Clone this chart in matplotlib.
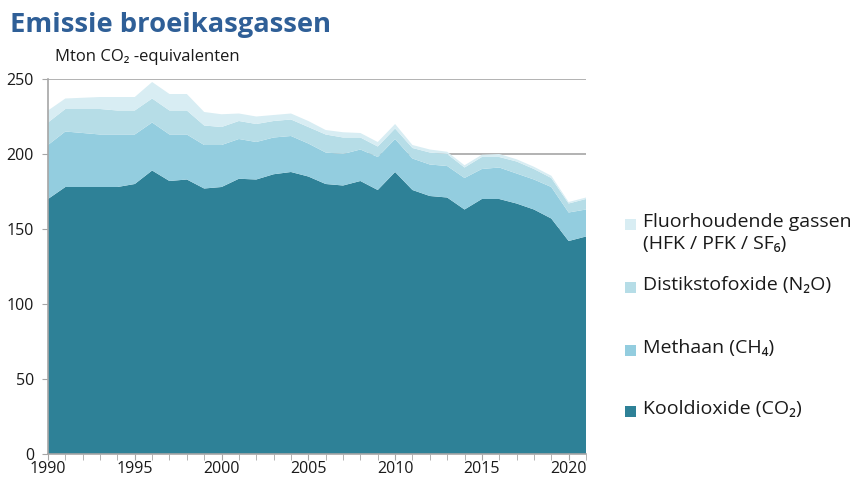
import matplotlib
matplotlib.use("Agg")
import matplotlib.pyplot as plt
from matplotlib.patches import Rectangle

years = list(range(1990, 2022))
co2 = [170, 178, 178, 178, 178, 180, 189, 182, 183, 177, 178, 183.5, 183, 186.5, 188, 185,
       180, 179, 182, 176, 188, 176, 172, 171, 163, 170, 170, 167, 163, 157, 142, 145]
top_ch4 = [206, 215, 214, 213, 213, 213, 221, 213, 213, 206, 206, 210, 208, 211, 212, 207,
           201, 200, 203, 198, 210, 197, 193, 192, 184, 190, 191, 187, 183, 178, 161, 163]
top_n2o = [221, 230, 230, 230, 229, 229, 237, 229, 229, 219, 218, 222, 220, 222, 223, 218,
           213, 211, 211, 205, 217, 204, 201, 200, 191, 198, 198, 195, 190, 184, 167, 170]
top_f = [229, 237, 237.5, 238, 238, 238, 248, 240, 240, 228, 226.5, 227, 225, 226, 227, 222,
         216, 214.5, 214, 208, 220, 206, 203, 201.5, 192.5, 199.5, 200, 196.5, 191.5, 185.5, 168, 171]

ch4 = [b - a for a, b in zip(co2, top_ch4)]
n2o = [b - a for a, b in zip(top_ch4, top_n2o)]
fgas = [b - a for a, b in zip(top_n2o, top_f)]

labels = ["Kooldioxide (CO₂)", "Methaan (CH₄)", "Distikstofoxide (N₂O)",
          "Fluorhoudende gassen\n(HFK / PFK / SF₆)"]
colors = ["#2e8197", "#93cddf", "#b6dde7", "#d8edf3"]

FONT = ["Open Sans", "DejaVu Sans"]
plt.rcParams['font.family'] = FONT

fig = plt.figure(figsize=(8.57, 4.83), dpi=100)
ax = fig.add_axes([48/857, 1-454/483, (586-48)/857, (454-79)/483])

ax.stackplot(years, co2, ch4, n2o, fgas, colors=colors, linewidth=0, zorder=2)
ax.set_xlim(1990, 2021)
ax.set_ylim(0, 250)
ax.set_yticks(range(0, 251, 50))
ax.set_xticks(range(1990, 2021, 5))
ax.set_xticks(range(1990, 2022), minor=True)
ax.grid(axis='y', color='#a6a6a6', linewidth=1.2, zorder=0)
ax.set_axisbelow(True)
for s in ['top', 'right']:
    ax.spines[s].set_visible(False)
for s in ['left', 'bottom']:
    ax.spines[s].set_color('#a6a6a6')
    ax.spines[s].set_linewidth(1.2)
    ax.spines[s].set_zorder(3)
ax.tick_params(axis='both', which='both', colors='#a6a6a6', labelcolor='#1a1a1a',
               labelsize=11.5, length=4, direction='out')
ax.tick_params(axis='x', pad=1)
ax.tick_params(axis='y', pad=6)

fig.text(10/857, 1-25/483, "Emissie broeikasgassen", fontsize=19.7, fontweight='bold',
         color='#2f5f97', va='center', ha='left')
fig.text(55/857, 1-57/483, "Mton CO₂ -equivalenten", fontsize=12, color='#1a1a1a',
         va='center', ha='left')

# legend (manual)
leg_y = [411, 350, 287, 224]
for lab, col, yy in zip(labels, colors, leg_y):
    fig.patches.append(Rectangle((625/857, 1-(yy+6)/483), 11/857, 11/483,
                                 transform=fig.transFigure, facecolor=col,
                                 edgecolor='none'))
    fig.text(643/857, 1-(yy-11)/483, lab, fontsize=14, color='#1a1a1a',
             va='top', ha='left', linespacing=1.3)

fig.savefig("out.png", dpi=100)
